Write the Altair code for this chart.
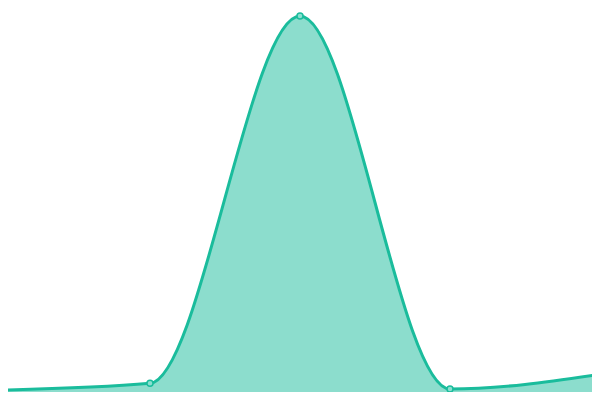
import altair as alt
import pandas as pd

xs = [0, 1, 2, 3, 4]
values = [0.5, 2.3, 100, 0.8, 4.7]

df = pd.DataFrame({"x": xs, "v": values})

xscale = alt.Scale(domain=[0.0533, 3.9467], nice=False, zero=False)
yscale = alt.Scale(domain=[0, 102.13], nice=False)

base = alt.Chart(df).encode(
    x=alt.X("x:Q", scale=xscale, axis=None),
    y=alt.Y("v:Q", scale=yscale, axis=None),
)

area = base.mark_area(interpolate="monotone", color="#1abc9c", opacity=0.5, clip=True)
line = base.mark_line(interpolate="monotone", color="#1abc9c", strokeWidth=3, clip=True)
pts = base.mark_point(filled=False, shape="circle", size=36, fill="#8ae0d0", fillOpacity=1,
                      stroke="#1abc9c", strokeWidth=1.5, opacity=1, clip=True)

chart = (area + line + pts).properties(width=584, height=384, padding=0).configure_view(stroke=None)

chart.save("out.html", embed_options={"renderer": "svg", "actions": False})
